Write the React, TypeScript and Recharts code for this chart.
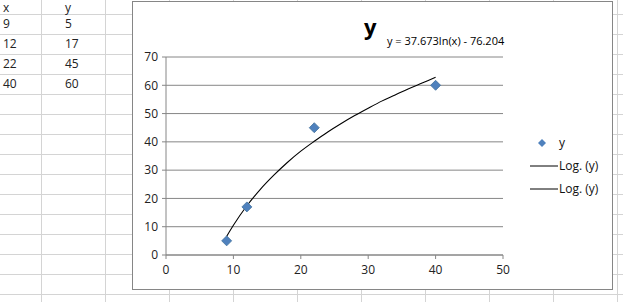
import React from "react";
import {
  ComposedChart,
  Scatter,
  Line,
  XAxis,
  YAxis,
  CartesianGrid,
} from "recharts";

// sheet cells
const xValues = [9, 12, 22, 40];
const yValues = [5, 17, 45, 60];

// log trendline
const trendX = [9, 10, 12, 14, 16, 18, 20, 22, 24, 26, 28, 30, 32, 34, 36, 38, 40];
const trendY = [6.6, 10.5, 17.4, 23.2, 28.2, 32.7, 36.7, 40.2, 43.5, 46.5, 49.3, 51.9, 54.4, 56.6, 58.8, 60.8, 62.8];

const xTicks = [0, 10, 20, 30, 40, 50];
const yTicks = [0, 10, 20, 30, 40, 50, 60, 70];

const title = "y";
const equation = "y = 37.673ln(x) - 76.204";
const legendNames = ["y", "Log. (y)", "Log. (y)"];

const points = xValues.map((x, i) => ({ x, y: yValues[i] }));
const trend = trendX.map((x, i) => ({ x, y: trendY[i] }));

const colLines = [41, 105, 169, 233, 297, 361, 425, 489, 553, 617];
const rowLines = [14, 34, 54, 74, 94, 114, 134, 154, 174, 194, 214, 234, 254, 274, 294];

const Diamond = (props: any) => {
  const { cx, cy } = props;
  if (cx == null || cy == null) return null;
  const r = 5;
  return (
    <polygon
      points={`${cx},${cy - r} ${cx + r},${cy} ${cx},${cy + r} ${cx - r},${cy}`}
      fill="#4F81BD"
      stroke="#41719C"
      strokeWidth={0.8}
    />
  );
};

const LegendBox = () => (
  <div style={{ fontFamily: "'Open Sans', sans-serif", fontSize: 12, color: "#111" }}>
    <div style={{ display: "flex", alignItems: "center", height: 23 }}>
      <svg width={29} height={12}>
        <polygon points="12,2 16,6 12,10 8,6" fill="#4F81BD" />
      </svg>
      <span>{legendNames[0]}</span>
    </div>
    {legendNames.slice(1).map((n, i) => (
      <div key={i} style={{ display: "flex", alignItems: "center", height: 23 }}>
        <svg width={29} height={12}>
          <line x1={0} y1={6} x2={28} y2={6} stroke="#000" strokeWidth={1} />
        </svg>
        <span>{n}</span>
      </div>
    ))}
  </div>
);

const cellText: React.CSSProperties = { fontSize: 12, color: "#222", lineHeight: "20px" };

export default function App() {
  return (
    <div
      style={{
        position: "absolute",
        left: 0,
        top: 0,
        width: 623,
        height: 302,
        background: "#fff",
        overflow: "hidden",
        fontFamily: "'Open Sans', sans-serif",
      }}
    >
      {colLines.map((x) => (
        <div key={"c" + x} style={{ position: "absolute", left: x, top: 0, width: 1, height: 302, background: "#D4D4D4" }} />
      ))}
      {rowLines.map((y) => (
        <div key={"r" + y} style={{ position: "absolute", left: 0, top: y, width: 623, height: 1, background: "#D4D4D4" }} />
      ))}
      <div style={{ position: "absolute", left: 3, top: 1, ...cellText }}>
        <div style={{ lineHeight: "13px", height: 13 }}>x</div>
        {xValues.map((v, i) => (
          <div key={i}>{v}</div>
        ))}
      </div>
      <div style={{ position: "absolute", left: 65, top: 1, ...cellText }}>
        <div style={{ lineHeight: "13px", height: 13 }}>y</div>
        {yValues.map((v, i) => (
          <div key={i}>{v}</div>
        ))}
      </div>

      <div
        style={{
          position: "absolute",
          left: 132,
          top: 1,
          width: 479,
          height: 287,
          background: "#fff",
          border: "1px solid #868686",
        }}
      />
      <div
        style={{
          position: "absolute",
          left: 364,
          top: 13,
          fontWeight: 700,
          fontSize: 22,
          lineHeight: "26px",
          color: "#000",
        }}
      >
        {title}
      </div>
      <div
        style={{
          position: "absolute",
          left: 387,
          top: 34,
          fontSize: 11,
          lineHeight: "14px",
          color: "#000",
          whiteSpace: "nowrap",
        }}
      >
        {equation}
      </div>
      <div style={{ position: "absolute", left: 530, top: 131, width: 88 }}>
        <LegendBox />
      </div>

      <div style={{ position: "absolute", left: 0, top: 0 }}>
        <ComposedChart
          width={623}
          height={302}
          margin={{ top: 57, right: 120, bottom: 17, left: 106 }}
        >
          <CartesianGrid vertical={false} stroke="#868686" strokeWidth={1} />
          <XAxis
            dataKey="x"
            type="number"
            domain={[0, 50]}
            ticks={xTicks}
            height={30}
            stroke="#868686"
            tickSize={4}
            tickMargin={6}
            tick={{ fill: "#222", fontSize: 12, fontFamily: "'Open Sans', sans-serif" }}
            allowDuplicatedCategory={false}
          />
          <YAxis
            dataKey="y"
            type="number"
            domain={[0, 70]}
            ticks={yTicks}
            width={60}
            stroke="#868686"
            tickSize={4}
            tickMargin={4}
            tick={{ fill: "#222", fontSize: 12, fontFamily: "'Open Sans', sans-serif" }}
          />
          <Line
            data={trend}
            dataKey="y"
            type="monotone"
            stroke="#000"
            strokeWidth={1.1}
            dot={false}
            activeDot={false}
            isAnimationActive={false}
          />
          <Scatter data={points} dataKey="y" shape={<Diamond />} isAnimationActive={false} />
        </ComposedChart>
      </div>
    </div>
  );
}
